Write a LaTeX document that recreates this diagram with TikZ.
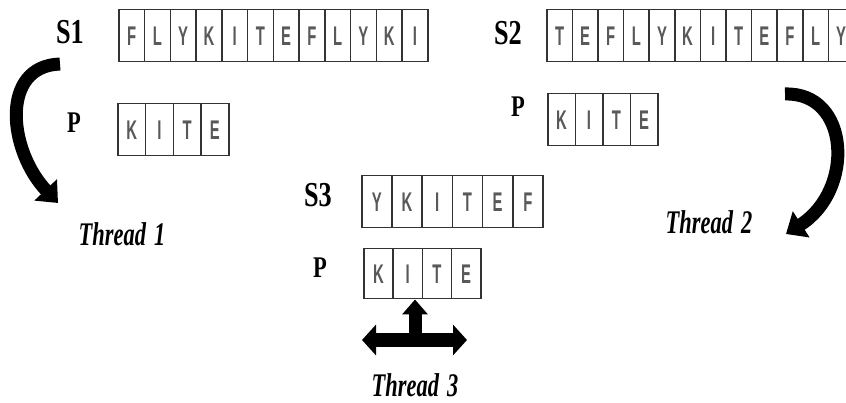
\documentclass[tikz,border=0pt]{standalone}
\usepackage{fontspec}
\usetikzlibrary{arrows.meta}
\newfontfamily\lblfont[FakeStretch=0.75]{Liberation Serif}
\newfontfamily\thrfont[FakeStretch=0.68]{Liberation Serif}
\newfontfamily\cellfont[FakeStretch=0.55]{Liberation Sans}
\newcommand\myrow[6]{%
  \foreach \L [count=\i] in {#6}
    \node[cell, minimum width=#4pt, minimum height=#5pt] (#1-\i) at ({#2+(\i-1)*#4}, #3) {\L};}
\begin{document}
\begin{tikzpicture}[x=1pt,y=-1pt,
  cell/.style={draw=black!80, line width=1.5pt, fill=white, inner sep=0pt,
    anchor=north west, text=black!65, font=\cellfont\bfseries\fontsize{27}{27}\selectfont},
  slbl/.style={font=\lblfont\bfseries\fontsize{35}{35}\selectfont},
  plbl/.style={font=\lblfont\bfseries\fontsize{30}{30}\selectfont},
  thr/.style={font=\thrfont\bfseries\itshape\fontsize{33}{33}\selectfont},
  bigarrow/.style={line width=13pt, -{Triangle[width=30pt,length=18pt]}},
]
\useasboundingbox[fill=white] (0,0) rectangle (846,403);
\clip (0,0) rectangle (846,403);

% rows of cells
\myrow{s1}{118}{9}{25.75}{52}{F,L,Y,K,I,T,E,F,L,Y,K,I}
\myrow{s2}{546}{9}{25.6}{52}{T,E,F,L,Y,K,I,T,E,F,L,Y}
\myrow{p1}{117}{103}{27.75}{52}{K,I,T,E}
\myrow{p2}{547}{93}{27.5}{52}{K,I,T,E}
\myrow{s3}{361}{175}{30.2}{52}{Y,K,I,T,E,F}
\myrow{p3}{363}{248}{29.25}{50}{K,I,T,E}

% labels
\node[slbl] (ls1) at (70,32) {S1};
\node[slbl] (ls2) at (508,33) {S2};
\node[slbl] (ls3) at (318,195) {S3};
\node[plbl] (lp1) at (74,123) {P};
\node[plbl] (lp2) at (518,107) {P};
\node[plbl] (lp3) at (320,268) {P};

\node[thr] (t1) at (122,234) {Thread\hspace{8pt}1};
\node[thr] (t2) at (709,222) {Thread\hspace{8pt}2};
\node[thr] (t3) at (415,385) {Thread\hspace{8pt}3};

% curved arrows
\coordinate (a1s) at (60,64);
\coordinate (a1e) at (58,203);
\draw[bigarrow] (a1s) .. controls (0,66) and (8,150) .. (a1e);
\coordinate (a2s) at (785,94);
\coordinate (a2e) at (786,234);
\draw[bigarrow] (a2s) .. controls (850,92) and (855,190) .. (a2e);

% T-shaped arrows under P of thread 3
\coordinate (tl) at (362,340);
\coordinate (tr) at (467,340);
\coordinate (tb) at (415,340);
\draw[line width=14pt, {Triangle[width=30pt,length=14pt]}-{Triangle[width=30pt,length=14pt]}] (tl) -- (tr);
\draw[line width=13pt, -{Triangle[width=25pt,length=15pt]}] (tb) -- (tb |- p3-2.south);
\end{tikzpicture}
\end{document}
